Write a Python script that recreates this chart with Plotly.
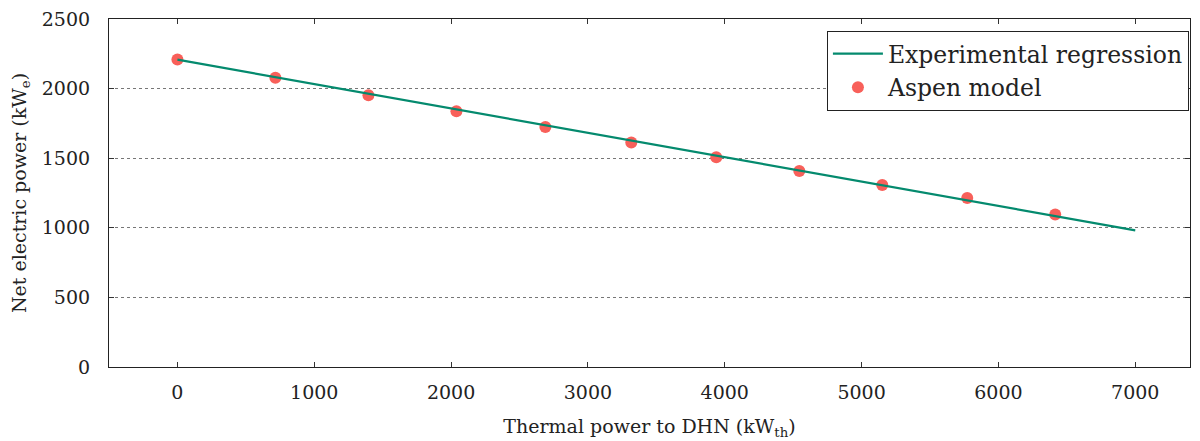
import plotly.graph_objects as go

# Aspen model points
aspen_x = [0, 716, 1396, 2039, 2689, 3317, 3938, 4545, 5151, 5772, 6415]
aspen_y = [2209, 2078, 1953, 1838, 1724, 1612, 1506, 1408, 1307, 1214, 1096]

# Experimental regression line end points
reg_x = [0, 7000]
reg_y = [2208, 982]

x_ticks = [0, 1000, 2000, 3000, 4000, 5000, 6000, 7000]
y_ticks = [0, 500, 1000, 1500, 2000, 2500]

font = "DejaVu Serif"

fig = go.Figure()
fig.add_trace(
    go.Scatter(
        x=aspen_x,
        y=aspen_y,
        mode="markers",
        name="Aspen model",
        marker={"color": "#f8605a", "size": 12},
    )
)
fig.add_trace(
    go.Scatter(
        x=reg_x,
        y=reg_y,
        mode="lines",
        name="Experimental regression",
        line={"color": "#048a6e", "width": 2.2},
    )
)

axis_common = {
    "showline": True,
    "linecolor": "#222",
    "linewidth": 1.2,
    "mirror": "ticks",
    "ticks": "inside",
    "ticklen": 5,
    "tickcolor": "#333",
    "zeroline": False,
    "automargin": False,
    "ticklabeloverflow": "allow",
    "tickfont": {"family": font, "size": 19, "color": "#222"},
}

fig.update_xaxes(
    range=[-500, 7400],
    tickvals=x_ticks,
    showgrid=False,
    ticklabelstandoff=8,
    title={"text": "Thermal power to DHN (kW<sub>th</sub>)", "font": {"family": font, "size": 19, "color": "#222"}, "standoff": 17},
    **axis_common,
)
fig.update_yaxes(
    range=[0, 2500],
    tickvals=y_ticks,
    showgrid=True,
    gridcolor="#777",
    griddash="dot",
    gridwidth=1,
    ticklabelstandoff=14,
    title={"text": "Net electric power (kW<sub>e</sub>)", "font": {"family": font, "size": 19, "color": "#222"}, "standoff": 12},
    **axis_common,
)

# page body adds an 8px offset, so the figure is drawn slightly smaller
fig.update_layout(
    width=1192,
    height=433,
    margin={"l": 101, "r": 10, "t": 11, "b": 74},
    plot_bgcolor="white",
    paper_bgcolor="white",
    font={"family": font, "size": 19, "color": "#222"},
    legend={
        "x": 0.999,
        "y": 0.966,
        "xanchor": "right",
        "yanchor": "top",
        "bgcolor": "white",
        "bordercolor": "#222",
        "borderwidth": 1,
        "itemwidth": 50,
        "traceorder": "reversed",
        "font": {"family": font, "size": 23.5, "color": "#222"},
    },
    showlegend=True,
)

fig.write_html("out.html")
